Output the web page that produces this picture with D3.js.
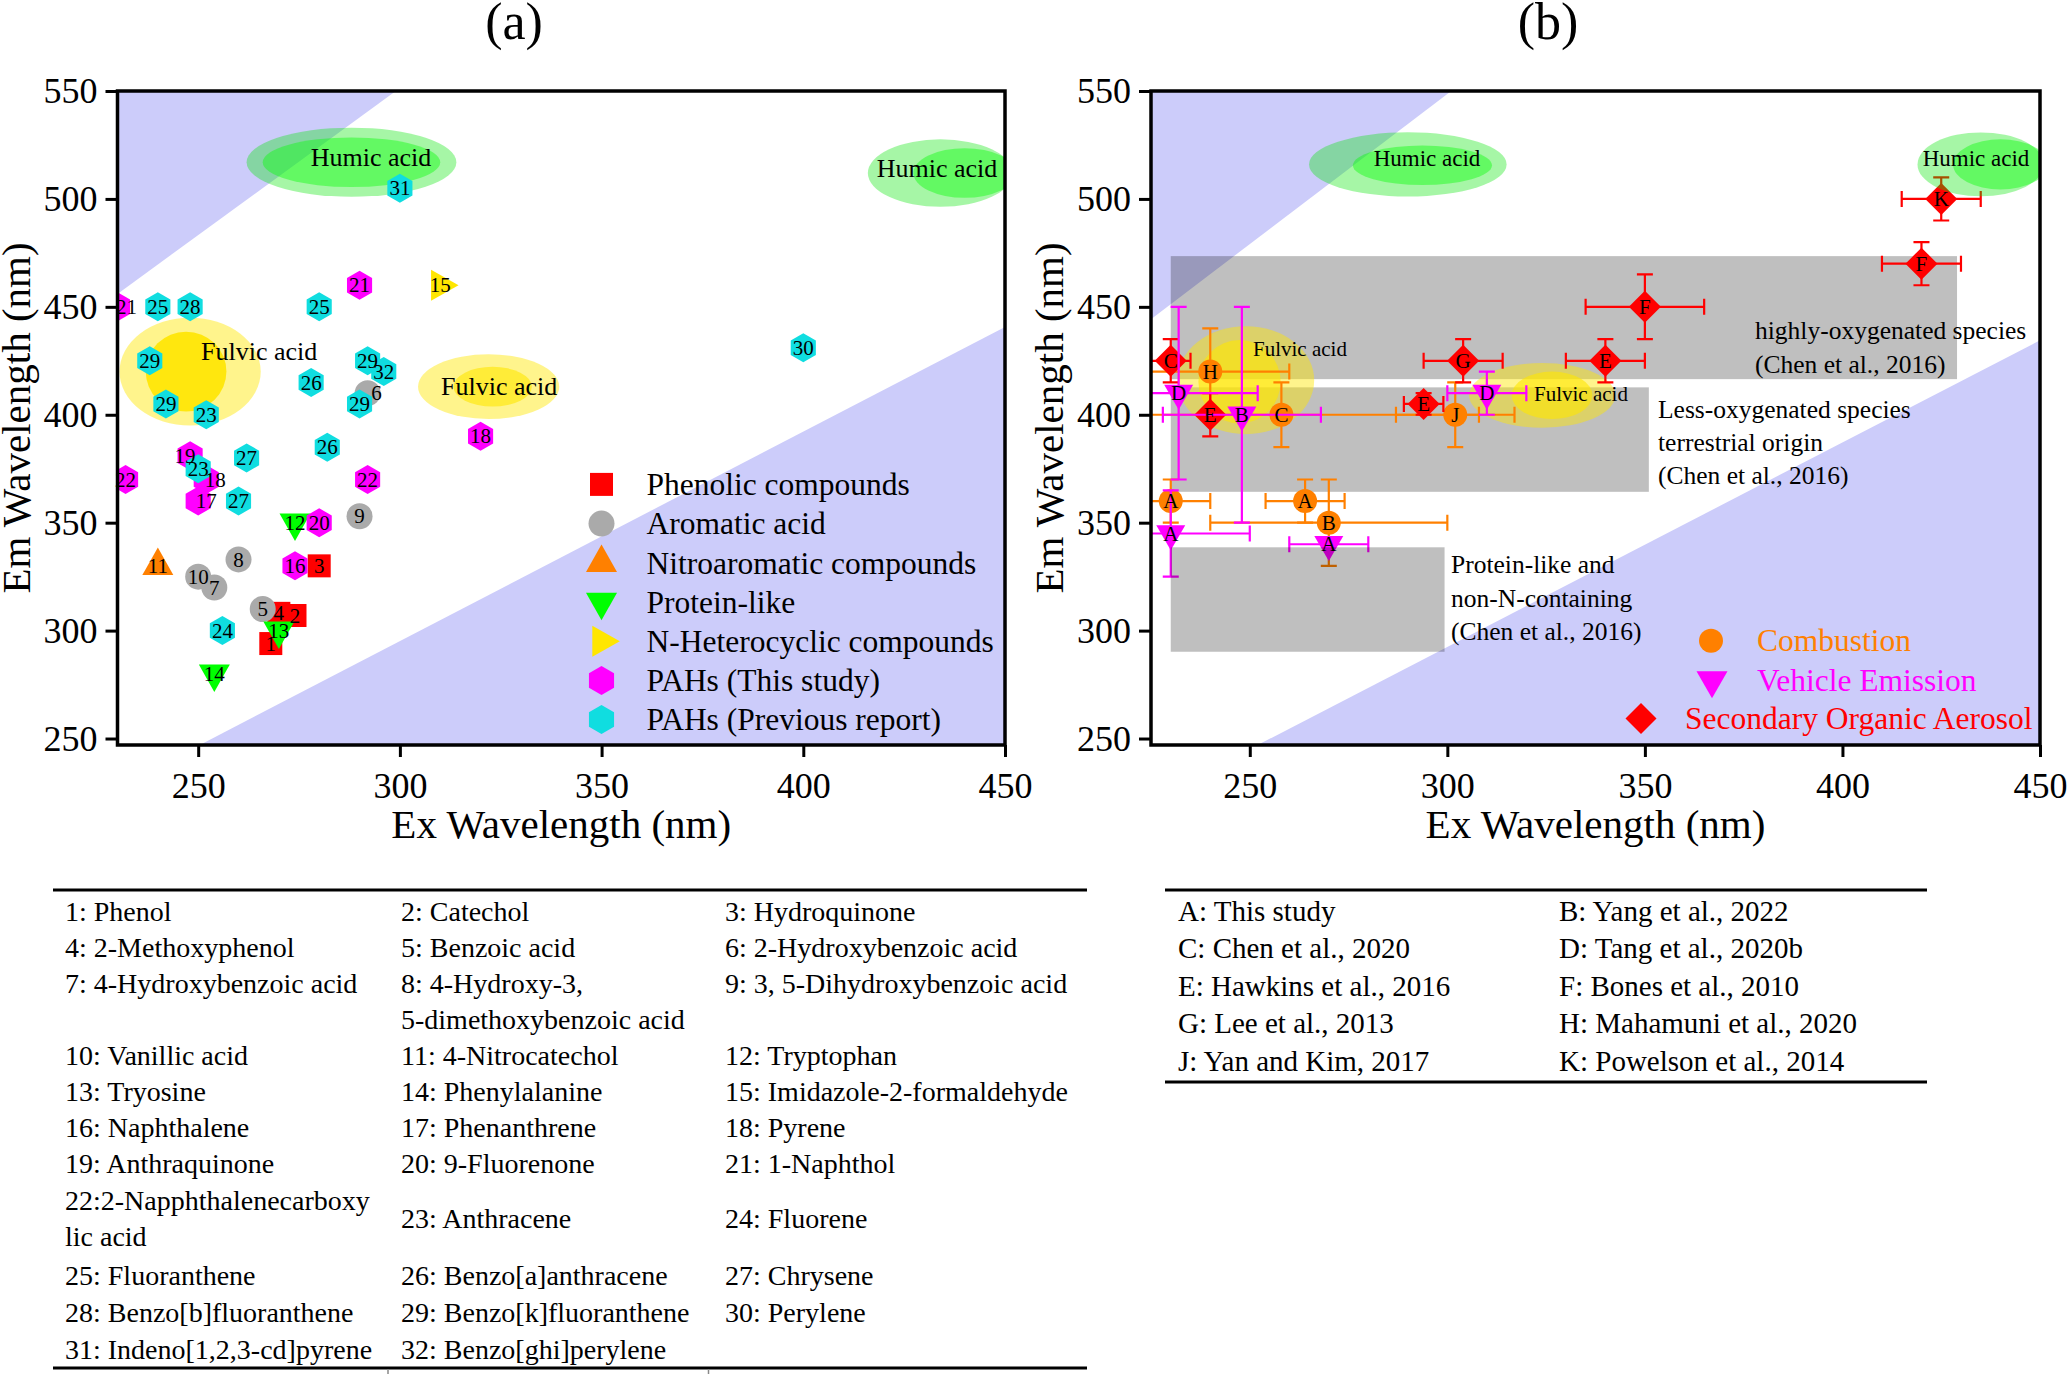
<!DOCTYPE html>
<html lang="en">
<head>
<meta charset="UTF-8">
<title>EEM positions</title>
<script src="https://d3js.org/d3.v7.min.js"></script>
<style>
  body { margin: 0; background: #fff; }
  svg { display: block; }
  text { font-family: "Liberation Serif", "Times New Roman", serif; }
</style>
</head>
<body>
<script>
// ---------- panel (a): model compounds ----------
var phenolicId = [1, 4, 2, 3];
var phenolicEx = [268, 270, 274, 280];
var phenolicEm = [294, 308, 307, 330];

var aromaticId = [5, 6, 7, 8, 9, 10];
var aromaticEx = [266, 292, 254, 260, 290, 250];
var aromaticEm = [310, 410, 320, 333, 353, 325];

var nitroId = [11];
var nitroEx = [240];
var nitroEm = [330];

var proteinId = [12, 13, 14];
var proteinEx = [274, 270, 254];
var proteinEm = [350, 300, 280];

var nhetId = [15];
var nhetEx = [310];
var nhetEm = [460];

var pahThisId = [16, 17, 18, 18, 19, 20, 21, 21, 22, 22];
var pahThisEx = [274, 250, 252, 320, 248, 280, 230, 290, 232, 292];
var pahThisEm = [330, 360, 370, 390, 381, 350, 450, 460, 370, 370];

var pahPrevId = [23, 23, 24, 25, 25, 26, 26, 27, 27, 28, 29, 29, 29, 29, 30, 31, 32];
var pahPrevEx = [252, 250, 256, 240, 280, 278, 282, 262, 260, 248, 238, 242, 292, 290, 400, 300, 296];
var pahPrevEm = [400, 375, 300, 450, 450, 415, 385, 380, 360, 450, 425, 405, 425, 405, 431, 505, 420];

// ---------- panel (b): literature sources ----------
var combLabel = ['H', 'C', 'J', 'A', 'A', 'B'];
var combEx = [240, 258, 302, 230, 264, 270];
var combEm = [420, 400, 400, 360, 360, 350];
var combXerr = [20, 50, 15, 10, 10, 30];
var combYerr = [20, 15, 15, 10, 10, 20];

var soaLabel = ['C', 'E', 'E', 'G', 'E', 'F', 'F', 'K'];
var soaEx = [230, 240, 294, 304, 340, 350, 420, 425];
var soaEm = [425, 400, 405, 425, 425, 450, 470, 500];
var soaXerr = [5, 0, 5, 10, 10, 15, 10, 10];
var soaYerr = [10, 10, 5, 10, 10, 15, 10, 10];

var vehLabel = ['D', 'B', 'D', 'A', 'A'];
var vehEx = [232, 248, 310, 230, 270];
var vehEm = [410, 400, 410, 345, 340];
var vehXerr = [20, 20, 10, 20, 10];
var vehYerr = [40, 50, 10, 20, 0];

// shaded regions (data units)
var scatterA = [[[230, 550], [299, 550], [230, 456]], [[250.4, 247], [450, 247], [450, 440.7]]];
var scatterB = [[[225, 550], [301, 550], [225, 444.3]], [[252, 247], [450, 247], [450, 434.5]]];
var humicA = [{outer: [288, 517, 26, 16], inner: [288, 517, 22, 11.5]},
              {outer: [434, 512, 18, 15.6], inner: [440, 512, 12.7, 11.5]}];
var fulvicA = [{outer: [248, 420, 17.5, 25], inner: [247, 420, 10, 18.5]},
               {outer: [322, 413, 17.5, 15], inner: [323, 413, 9.7, 9.2]}];
var humicB = [{outer: [290, 516, 25, 14.9], inner: [293.7, 515.6, 17.6, 9.2]},
              {outer: [435, 516, 16, 14.8], inner: [440, 516, 12, 11.6]}];
var fulvicB = [{outer: [249, 416, 17.3, 25], inner: [247.4, 415.3, 10.4, 19.3]},
               {outer: [324, 409, 18.5, 15], inner: [326.5, 409, 10.2, 11]}];
var chenBoxes = [[230, 429, 416.5, 473.5], [230, 351, 364.3, 412.7], [230, 299.3, 290.2, 338.6]];

var xTicks = [250, 300, 350, 400, 450];
var yTicks = [250, 300, 350, 400, 450, 500, 550];

var compoundNames = ['1: Phenol', '2: Catechol', '3: Hydroquinone',
  '4: 2-Methoxyphenol', '5: Benzoic acid', '6: 2-Hydroxybenzoic acid',
  '7: 4-Hydroxybenzoic acid', '8: 4-Hydroxy-3,|5-dimethoxybenzoic acid', '9: 3, 5-Dihydroxybenzoic acid',
  '10: Vanillic acid', '11: 4-Nitrocatechol', '12: Tryptophan',
  '13: Tryosine', '14: Phenylalanine', '15: Imidazole-2-formaldehyde',
  '16: Naphthalene', '17: Phenanthrene', '18: Pyrene',
  '19: Anthraquinone', '20: 9-Fluorenone', '21: 1-Naphthol',
  '22:2-Napphthalenecarboxy|lic acid', '23: Anthracene', '24: Fluorene',
  '25: Fluoranthene', '26: Benzo[a]anthracene', '27: Chrysene',
  '28: Benzo[b]fluoranthene', '29: Benzo[k]fluoranthene', '30: Perylene',
  '31: Indeno[1,2,3-cd]pyrene', '32: Benzo[ghi]perylene'];

var sourceNames = ['A: This study', 'B: Yang et al., 2022', 'C: Chen et al., 2020', 'D: Tang et al., 2020b',
  'E: Hawkins et al., 2016', 'F: Bones et al., 2010', 'G: Lee et al., 2013', 'H: Mahamuni et al., 2020',
  'J: Yan and Kim, 2017', 'K: Powelson et al., 2014'];

// ---------- shapes ----------
function circ(r) {
  return 'M' + (-r) + ',0a' + r + ',' + r + ' 0 1,0 ' + (2 * r) + ',0a' + r + ',' + r + ' 0 1,0 ' + (-2 * r) + ',0Z';
}
function tri(w, h, dir) {
  var p;
  if (dir == 'up') p = [[0, -2 * h / 3], [w / 2, h / 3], [-w / 2, h / 3]];
  else if (dir == 'down') p = [[0, 2 * h / 3], [w / 2, -h / 3], [-w / 2, -h / 3]];
  else p = [[2 * h / 3, 0], [-h / 3, w / 2], [-h / 3, -w / 2]];
  return 'M' + p.join('L') + 'Z';
}
function hex(r) {
  var p = d3.range(6).map(function(k) {
    var a = (-90 + 60 * k) * Math.PI / 180;
    return [r * Math.cos(a), r * Math.sin(a)];
  });
  return 'M' + p.join('L') + 'Z';
}
function diamond(r) { return 'M0,' + (-r) + 'L' + r + ',0L0,' + r + 'L' + (-r) + ',0Z'; }
function square(s) { var h = s / 2; return 'M' + (-h) + ',' + (-h) + 'h' + s + 'v' + s + 'h' + (-s) + 'Z'; }

var shapes = {
  square: square(23), circle: circ(13), up: tri(31, 27.5, 'up'), down: tri(31, 27.5, 'down'),
  right: tri(31, 27.5, 'right'), hex: hex(14.5),
  bCircle: circ(12), bDown: tri(29, 25, 'down'), bDiamond: diamond(16)
};

var groupsA = [
  {name: 'Phenolic compounds', shape: 'square', color: '#ff0000', id: phenolicId, ex: phenolicEx, em: phenolicEm},
  {name: 'Aromatic acid', shape: 'circle', color: '#aaaaaa', id: aromaticId, ex: aromaticEx, em: aromaticEm},
  {name: 'Nitroaromatic compounds', shape: 'up', color: '#ff8000', id: nitroId, ex: nitroEx, em: nitroEm},
  {name: 'Protein-like', shape: 'down', color: '#00ff00', id: proteinId, ex: proteinEx, em: proteinEm},
  {name: 'N-Heterocyclic compounds', shape: 'right', color: '#ffe600', id: nhetId, ex: nhetEx, em: nhetEm},
  {name: 'PAHs (This study)', shape: 'hex', color: '#ff00ff', id: pahThisId, ex: pahThisEx, em: pahThisEm},
  {name: 'PAHs (Previous report)', shape: 'hex', color: '#10dde0', id: pahPrevId, ex: pahPrevEx, em: pahPrevEm}
];
// small horizontal nudges of number labels (px), keyed by id@ex
var labelDx = {'6@292': 9, '18@252': 9, '17@250': 8, '19@248': -5, '21@230': 9};

var groupsB = [
  {name: 'Combustion', shape: 'bCircle', color: '#ff8000', lab: combLabel, ex: combEx, em: combEm, xe: combXerr, ye: combYerr},
  {name: 'Secondary Organic Aerosol', shape: 'bDiamond', color: '#ff0000', lab: soaLabel, ex: soaEx, em: soaEm, xe: soaXerr, ye: soaYerr},
  {name: 'Vehicle Emission', shape: 'bDown', color: '#ff00ff', lab: vehLabel, ex: vehEx, em: vehEm, xe: vehXerr, ye: vehYerr}
];

// ---------- canvas ----------
var svg = d3.select('body').append('svg').attr('width', 2067).attr('height', 1374);

var plotTop = 91, plotBottom = 745;
var xA = d3.scaleLinear().domain([230, 450]).range([117.5, 1005]);
var yA = d3.scaleLinear().domain([247, 550]).range([plotBottom, plotTop]);
var xB = d3.scaleLinear().domain([225, 450]).range([1151, 2040]);
var yB = d3.scaleLinear().domain([247, 550]).range([plotBottom, plotTop]);

var defs = svg.append('defs');
function addClip(id, x) {
  defs.append('clipPath').attr('id', id).append('rect')
      .attr('x', x.range()[0]).attr('y', plotTop)
      .attr('width', x.range()[1] - x.range()[0]).attr('height', plotBottom - plotTop);
}
addClip('clipA', xA);
addClip('clipB', xB);

function drawPolys(g, polys, x, y) {
  var line = d3.line().x(function(d) { return x(d[0]); }).y(function(d) { return y(d[1]); });
  g.selectAll(null).data(polys).join('path')
   .attr('d', function(d) { return line(d) + 'Z'; })
   .attr('fill', '#ccccfa');
}

function drawEllipses(g, list, x, y, color, innerColor, oOut, oIn) {
  list.forEach(function(e, k) {
    [[e.outer, color, oOut], [e.inner, innerColor, Array.isArray(oIn) ? oIn[k] : oIn]].forEach(function(p) {
      var c = p[0];
      g.append('ellipse')
       .attr('cx', x(c[0])).attr('cy', y(c[1]))
       .attr('rx', Math.abs(x(c[0] + c[2]) - x(c[0])))
       .attr('ry', Math.abs(y(c[1] + c[3]) - y(c[1])))
       .attr('fill', p[1]).attr('fill-opacity', p[2]);
    });
  });
}

function drawAxes(x, y) {
  var xr = x.range();
  var gx = svg.append('g').attr('transform', 'translate(0,' + plotBottom + ')')
    .call(d3.axisBottom(x).tickValues(xTicks).tickSize(12).tickPadding(15));
  var gy = svg.append('g').attr('transform', 'translate(' + xr[0] + ',0)')
    .call(d3.axisLeft(y).tickValues(yTicks).tickSize(12).tickPadding(8));
  [gx, gy].forEach(function(g) {
    g.select('.domain').remove();
    g.selectAll('line').attr('stroke', '#000').attr('stroke-width', 3);
    g.selectAll('text').attr('font-size', 36).attr('fill', '#000');
    g.attr('font-family', null).attr('font-size', null);
  });
  svg.append('rect').attr('x', xr[0]).attr('y', plotTop)
     .attr('width', xr[1] - xr[0]).attr('height', plotBottom - plotTop)
     .attr('fill', 'none').attr('stroke', '#000').attr('stroke-width', 3.5);
  svg.append('text').attr('x', (xr[0] + xr[1]) / 2).attr('y', 838)
     .attr('text-anchor', 'middle').attr('font-size', 41).text('Ex Wavelength (nm)');
  svg.append('text').attr('transform', 'translate(' + (xr[0] - 88) + ',' + ((plotTop + plotBottom) / 2) + ') rotate(-90)')
     .attr('text-anchor', 'middle').attr('font-size', 41).text('Em Wavelength (nm)');
}

function addText(g, x, y, s, size, anchor, color) {
  return g.append('text').attr('x', x).attr('y', y).attr('font-size', size)
          .attr('text-anchor', anchor || 'start').attr('fill', color || '#000').text(s);
}

// ---------- panel (a) ----------
var pa = svg.append('g').attr('clip-path', 'url(#clipA)');
drawPolys(pa, scatterA, xA, yA);
drawEllipses(pa, humicA, xA, yA, 'rgb(0,230,0)', '#00ff00', 0.35, 0.4);
drawEllipses(pa, fulvicA, xA, yA, '#ffe600', '#ffe600', 0.45, [0.9, 0.6]);

groupsA.forEach(function(g) {
  pa.selectAll(null).data(d3.range(g.ex.length)).join('path')
    .attr('transform', function(i) { return 'translate(' + xA(g.ex[i]) + ',' + yA(g.em[i]) + ')'; })
    .attr('d', shapes[g.shape]).attr('fill', g.color);
});

var la = svg.append('g');
addText(la, 371, 166, 'Humic acid', 26, 'middle');
addText(la, 937, 177, 'Humic acid', 26, 'middle');
addText(la, 201, 360, 'Fulvic acid', 26);
addText(la, 441, 395, 'Fulvic acid', 26);
groupsA.forEach(function(g) {
  la.selectAll(null).data(d3.range(g.ex.length)).join('text')
    .attr('x', function(i) { return xA(g.ex[i]) + (labelDx[g.id[i] + '@' + g.ex[i]] || 0); })
    .attr('y', function(i) { return yA(g.em[i]); })
    .attr('dy', '0.34em').attr('text-anchor', 'middle').attr('font-size', 21)
    .text(function(i) { return g.id[i]; });
});

// legend (a)
groupsA.forEach(function(g, k) {
  var yy = 484.4 + k * 39.2;
  la.append('path').attr('transform', 'translate(601.5,' + yy + ')').attr('d', shapes[g.shape]).attr('fill', g.color);
  addText(la, 646.5, yy, g.name, 31.5).attr('dy', '0.34em');
});
drawAxes(xA, yA);
addText(svg, 514, 39, '(a)', 52, 'middle');

// ---------- panel (b) ----------
var pb = svg.append('g').attr('clip-path', 'url(#clipB)');
drawPolys(pb, scatterB, xB, yB);
pb.selectAll(null).data(chenBoxes.slice(0, 2)).join('rect')
  .attr('x', function(d) { return xB(d[0]); }).attr('y', function(d) { return yB(d[3]); })
  .attr('width', function(d) { return xB(d[1]) - xB(d[0]); })
  .attr('height', function(d) { return yB(d[2]) - yB(d[3]); })
  .attr('fill', '#000').attr('fill-opacity', 0.25);
drawEllipses(pb, fulvicB, xB, yB, '#ffe600', '#ffe600', 0.45, 0.6);

var cap = 8;
groupsB.forEach(function(g) {
  var eb = pb.append('g').attr('stroke', g.color).attr('stroke-width', 2.2).attr('fill', 'none');
  g.ex.forEach(function(v, i) {
    var cx = xB(v), cy = yB(g.em[i]);
    if (g.xe[i] > 0) {
      var x0 = xB(v - g.xe[i]), x1 = xB(v + g.xe[i]);
      eb.append('path').attr('d', 'M' + x0 + ',' + cy + 'H' + x1 +
        'M' + x0 + ',' + (cy - cap) + 'V' + (cy + cap) + 'M' + x1 + ',' + (cy - cap) + 'V' + (cy + cap));
    }
    if (g.ye[i] > 0) {
      var y0 = yB(g.em[i] - g.ye[i]), y1 = yB(g.em[i] + g.ye[i]);
      eb.append('path').attr('d', 'M' + cx + ',' + y0 + 'V' + y1 +
        'M' + (cx - cap) + ',' + y0 + 'H' + (cx + cap) + 'M' + (cx - cap) + ',' + y1 + 'H' + (cx + cap));
    }
  });
  pb.selectAll(null).data(d3.range(g.ex.length)).join('path')
    .attr('transform', function(i) { return 'translate(' + xB(g.ex[i]) + ',' + yB(g.em[i]) + ')'; })
    .attr('d', shapes[g.shape]).attr('fill', g.color);
});
pb.selectAll(null).data(chenBoxes.slice(2)).join('rect')
  .attr('x', function(d) { return xB(d[0]); }).attr('y', function(d) { return yB(d[3]); })
  .attr('width', function(d) { return xB(d[1]) - xB(d[0]); })
  .attr('height', function(d) { return yB(d[2]) - yB(d[3]); })
  .attr('fill', '#000').attr('fill-opacity', 0.25);
drawEllipses(pb, humicB, xB, yB, 'rgb(0,230,0)', '#00ff00', 0.35, 0.4);

var lb = svg.append('g');
groupsB.forEach(function(g) {
  lb.selectAll(null).data(d3.range(g.ex.length)).join('text')
    .attr('x', function(i) { return xB(g.ex[i]); })
    .attr('y', function(i) { return yB(g.em[i]); })
    .attr('dy', '0.34em').attr('text-anchor', 'middle').attr('font-size', 21)
    .text(function(i) { return g.lab[i]; });
});
addText(lb, 1427, 166, 'Humic acid', 23, 'middle');
addText(lb, 1976, 166, 'Humic acid', 23, 'middle');
addText(lb, 1253, 356, 'Fulvic acid', 21);
addText(lb, 1534, 401, 'Fulvic acid', 21);
addText(lb, 1755, 339, 'highly-oxygenated species', 25.5);
addText(lb, 1755, 373, '(Chen et al., 2016)', 25.5);
['Less-oxygenated species', 'terrestrial origin', '(Chen et al., 2016)'].forEach(function(s, k) {
  addText(lb, 1658, 418 + k * 33, s, 25.5);
});
['Protein-like and', 'non-N-containing', '(Chen et al., 2016)'].forEach(function(s, k) {
  addText(lb, 1451, 573 + k * 33.5, s, 25.5);
});

// legend (b)
var legB = [[groupsB[0], 1711, 1757, 640.7], [groupsB[2], 1712, 1757, 680.2], [groupsB[1], 1641, 1685, 718.6]];
legB.forEach(function(l) {
  var g = l[0];
  var d = g.shape == 'bDown' ? tri(31, 27, 'down') : (g.shape == 'bDiamond' ? diamond(15.5) : shapes[g.shape]);
  lb.append('path').attr('transform', 'translate(' + l[1] + ',' + l[3] + ')').attr('d', d).attr('fill', g.color);
  addText(lb, l[2], l[3], g.name, 31.5, 'start', g.color).attr('dy', '0.34em');
});
drawAxes(xB, yB);
addText(svg, 1548, 39, '(b)', 52, 'middle');

// ---------- tables ----------
var tb = svg.append('g');
function rule(x0, x1, y) {
  tb.append('line').attr('x1', x0).attr('x2', x1).attr('y1', y).attr('y2', y)
    .attr('stroke', '#000').attr('stroke-width', 3);
}
rule(53, 1087, 890);
rule(53, 1087, 1368);
[388, 708.5].forEach(function(x) {
  tb.append('line').attr('x1', x).attr('x2', x).attr('y1', 1369).attr('y2', 1374)
    .attr('stroke', '#888').attr('stroke-width', 1.5);
});
var colX = [65, 401, 725];
var rowY = [911, 947, 983, 1055, 1091, 1127, 1163, 1218, 1275, 1312, 1349];
var rowTopAligned = [false, false, true, false, false, false, false, false, false, false, false];
compoundNames.forEach(function(s, i) {
  var r = Math.floor(i / 3), c = i % 3;
  var lines = s.split('|');
  var y0 = rowTopAligned[r] ? rowY[r] : rowY[r] - (lines.length - 1) * 18;
  lines.forEach(function(t, k) {
    addText(tb, colX[c], y0 + k * 36, t, 28).attr('dy', '0.34em');
  });
});

rule(1165, 1927, 890);
rule(1165, 1927, 1082);
sourceNames.forEach(function(s, i) {
  addText(tb, [1178, 1559][i % 2], 911 + Math.floor(i / 2) * 37.5, s, 29).attr('dy', '0.34em');
});
</script>
</body>
</html>
